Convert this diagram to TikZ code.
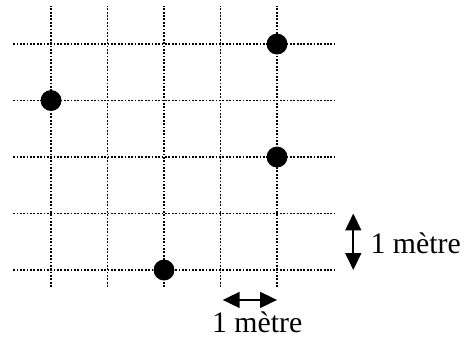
\documentclass[tikz,border=0pt]{standalone}
\usepackage{fontspec}
\setmainfont{Liberation Serif}
\usetikzlibrary{arrows.meta}
\begin{document}
\begin{tikzpicture}[>={Triangle[length=8.5pt,width=8pt]},
    gridline/.style={line width=0.9pt, dash pattern=on 0.9pt off 0.8pt},
    point/.style={circle, fill=black, inner sep=0pt, minimum size=0.37cm},
    label/.style={font=\fontsize{15}{18}\selectfont, inner sep=0pt}]
    \useasboundingbox (-0.903,-1.204) rectangle (7.363,4.779);

    % quadrillage
    \foreach \y in {0,...,4} {
        \draw[gridline] (-0.67,\y) -- (5.03,\y);
    }
    \foreach \x in {0,...,4} {
        \draw[gridline] (\x,-0.30) -- (\x,4.67);
    }

    % points
    \node[point] (p1) at (4,4) {};
    \node[point] (p2) at (0,3) {};
    \node[point] (p3) at (4,2) {};
    \node[point] (p4) at (2,0) {};

    % echelle verticale
    \coordinate (v0) at (5.35,0);
    \coordinate (v1) at (5.35,1);
    \draw[line width=0.9pt, <->] (v0) -- (v1);
    \node[label, anchor=west] (lv) at (5.65,0.48) {1 mètre};

    % echelle horizontale
    \coordinate (h0) at (3.04,-0.53);
    \coordinate (h1) at (4.0,-0.53);
    \draw[line width=0.9pt, <->] (h0) -- (h1);
    \node[label] (lh) at (3.65,-0.92) {1 mètre};

\end{tikzpicture}
\end{document}
